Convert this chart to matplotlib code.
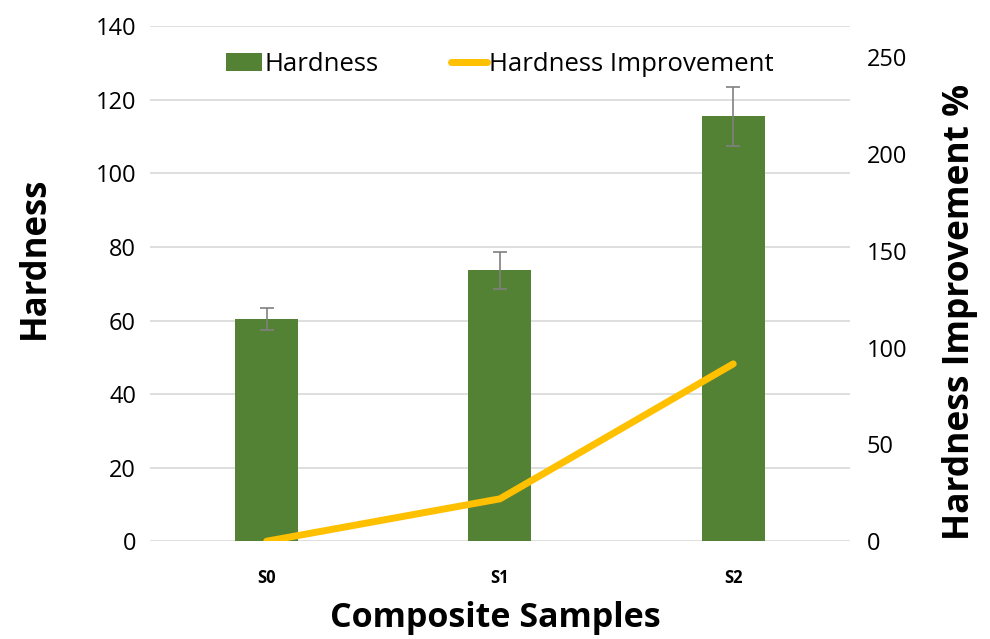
import matplotlib.pyplot as plt
import numpy as np

samples = ['S0', 'S1', 'S2']
hardness = [60.4, 73.6, 115.5]
hardness_err = [3.0, 5.0, 8.0]
improvement = [0.0, 21.9, 91.6]

plt.rcParams['font.family'] = ['Open Sans', 'DejaVu Sans']

fig = plt.figure(figsize=(9.9, 6.39), dpi=100)
ax = fig.add_axes([0.1515, 0.153, 0.707, 0.806])
ax2 = ax.twinx()

x = np.arange(len(samples))
ax.bar(x, hardness, width=0.27, color='#548235', label='Hardness', zorder=2)
ax.errorbar(x, hardness, yerr=hardness_err, fmt='none', ecolor='#808080',
            elinewidth=1.2, capsize=5, capthick=1.2, zorder=3)
ax2.plot(x, improvement, color='#FFC000', linewidth=5, solid_capstyle='round',
         label='Hardness Improvement', zorder=4)

ax.set_xlim(-0.5, 2.5)
ax.set_ylim(0, 140)
ax.set_yticks(range(0, 141, 20))
ax2.set_ylim(0, 266)
ax2.set_yticks(range(0, 251, 50))

ax.grid(axis='y', color='#d9d9d9', linewidth=1.2, zorder=0)
ax.set_axisbelow(True)
for a in (ax, ax2):
    for s in a.spines.values():
        s.set_visible(False)
    a.tick_params(length=0, labelsize=17, colors='#000000')
ax.tick_params(axis='y', pad=10)
ax2.tick_params(axis='y', pad=12)

ax.set_xticks(x)
ax.set_xticklabels(samples, fontsize=12, fontweight='bold')
ax.tick_params(axis='x', pad=20)

ax.set_xlabel('Composite Samples', fontsize=24.5, fontweight='bold')
ax.set_ylabel('Hardness', fontsize=25, fontweight='bold')
ax2.set_ylabel('Hardness Improvement %', fontsize=25.5, fontweight='bold')

# place axis titles where the reference has them
ax.xaxis.set_label_coords(0.493, -0.15)
ax.yaxis.set_label_coords(-0.164, 0.55)
ax2.yaxis.set_label_coords(1.157, 0.445)
for lab in (ax.xaxis.label, ax.yaxis.label, ax2.yaxis.label):
    lab.set_va('center')
    lab.set_ha('center')

h1, l1 = ax.get_legend_handles_labels()
h2, l2 = ax2.get_legend_handles_labels()
ax2.legend(h1 + h2, l1 + l2, loc='upper center', bbox_to_anchor=(0.5, 0.995),
           ncol=2, frameon=False, fontsize=18.5, handlelength=1.4,
           handletextpad=0.1, columnspacing=2.8)

fig.savefig('out.png', dpi=100)
